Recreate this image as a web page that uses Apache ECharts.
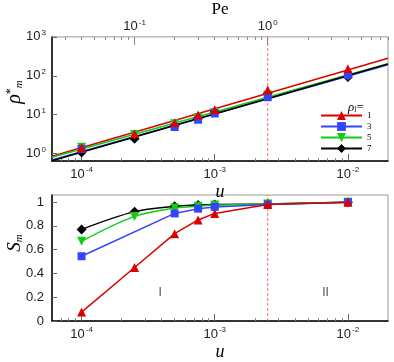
<!DOCTYPE html>
<html><head><meta charset="utf-8">
<script src="https://cdn.jsdelivr.net/npm/echarts@6/dist/echarts.min.js"></script>
<style>html,body{margin:0;padding:0;background:#fff}#c{width:394px;height:362px}</style>
</head><body><div id="c"></div>
<script>
// ---- data ----
const uVals = [1e-4, 2.5e-4, 5e-4, 7.5e-4, 1e-3, 2.5e-3, 1e-2];
const names = ['1', '3', '5', '7'];
// top panel: rho*_m
const rho1 = [1.4, 3.2, 6.2, 9.8, 13.4, 43, 152];
const rho3 = [1.3, null, 4.8, 7.4, 10.7, 28, 105];
const rho5 = [1.45, 3.1, 5.8, 8.3, 11.3, 32, 97];
const rho7 = [1.06, 2.4, 5.2, 8.1, 11.8, 35.5, 93];
// fitted power-law lines (endpoints)
const fitU = [6e-5, 0.02];
const fit1 = [0.85, 283];
const fit3 = [0.68, 192];
const fit5 = [0.8, 204];
const fit7 = [0.65, 200];
// bottom panel: S_m
const s1 = [0.075, 0.45, 0.735, 0.85, 0.905, 0.98, 1.0];
const s3 = [0.545, null, 0.905, 0.945, 0.96, 0.98, 1.0];
const s5 = [0.67, 0.88, 0.95, 0.965, 0.975, 0.985, 1.0];
const s7 = [0.77, 0.92, 0.965, 0.975, 0.98, 0.985, 1.0];
// ticks
const uTicks = [1e-4, 1e-3, 1e-2];
const uMinor = [7e-5, 8e-5, 9e-5, 2e-4, 3e-4, 4e-4, 5e-4, 6e-4, 7e-4, 8e-4, 9e-4, 2e-3, 3e-3, 4e-3, 5e-3, 6e-3, 7e-3, 8e-3, 9e-3];
const peTicks = [0.1, 1];
const peMinor = [0.03, 0.04, 0.05, 0.06, 0.07, 0.08, 0.09, 0.2, 0.3, 0.4, 0.5, 0.6, 0.7, 0.8, 0.9, 2, 3, 4, 5, 6, 7, 8];
const rhoTicks = [1, 10, 100, 1000];
const sTicks = [0, 0.2, 0.4, 0.6, 0.8, 1];
const transitionU = 2.5e-3;
const regionLabels = [['I', 3.9e-4, 0.235], ['II', 6.8e-3, 0.235]];
const uRange = [6e-5, 0.02];
const peRange = [0.024, 8];
const rhoRange = [0.64, 1000];
const sRange = [0, 1.06];

const colors = ['#dd0000', '#3344ff', '#11cc11', '#000000'];
const symbols = ['triangle', 'rect', 'path://M0,0 L10,0 L5,9 Z', 'diamond'];
const symSizes = [9, 8, 9, 10];

const pow = v => { const e = Math.round(Math.log10(v)); return '{b|10}{s|' + e + '}'; };
const richPow = {
  b: { fontSize: 13, fontFamily: 'Liberation Sans', color: '#222', lineHeight: 16 },
  s: { fontSize: 8, fontFamily: 'Liberation Sans', color: '#222', verticalAlign: 'top', lineHeight: 16, padding: [0, 0, 0, 1] }
};

function uAxis(grid) {
  return {
    type: 'log', logBase: 10, gridIndex: grid, min: uRange[0], max: uRange[1], position: 'bottom',
    axisLine: { show: true, onZero: false, lineStyle: { color: '#000', width: 1.5 } },
    axisTick: { show: true, inside: true, length: 7, customValues: uTicks, lineStyle: { color: '#666' } },
    axisLabel: { customValues: uTicks, formatter: pow, rich: richPow, margin: 5 },
    splitLine: { show: false },
    name: 'u', nameLocation: 'middle', nameGap: 22,
    nameTextStyle: { fontFamily: 'Liberation Serif', fontStyle: 'italic', fontSize: 18, color: '#000' }
  };
}
function minorAxis(grid, range, vals, pos) {
  return {
    type: 'log', logBase: 10, gridIndex: grid, min: range[0], max: range[1], position: pos,
    axisLine: { show: false },
    axisTick: { show: true, inside: true, length: 3, customValues: vals, lineStyle: { color: '#888' } },
    axisLabel: { show: false }, splitLine: { show: false }
  };
}

const series = [];
// bottom panel series first (legend takes their style)
const sData = [s1, s3, s5, s7];
names.forEach((n, i) => {
  series.push({
    name: n, type: 'line', xAxisIndex: 4, yAxisIndex: 1,
    data: uVals.map((u, k) => [u, sData[i][k]]).filter(d => d[1] !== null),
    smooth: i >= 2 ? 0.35 : false,
    symbol: symbols[i], symbolSize: symSizes[i], showAllSymbol: true,
    lineStyle: { color: colors[i], width: 1.5 }, itemStyle: { color: colors[i] },
    z: 10 - i
  });
});
// dashed transition lines
series.push({
  type: 'line', xAxisIndex: 0, yAxisIndex: 0, symbol: 'none', silent: true, z: 2,
  data: [[transitionU, rhoRange[0]], [transitionU, rhoRange[1]]],
  lineStyle: { color: '#ff4444', type: [3, 2], width: 0.8 }
});
series.push({
  type: 'line', xAxisIndex: 4, yAxisIndex: 1, symbol: 'none', silent: true, z: 2,
  data: [[transitionU, sRange[0]], [transitionU, sRange[1]]],
  lineStyle: { color: '#ff4444', type: [3, 2], width: 0.8 }
});
const fData = [fit1, fit3, fit5, fit7];
names.forEach((n, i) => {
  series.push({
    name: 'fit' + n, type: 'line', xAxisIndex: 0, yAxisIndex: 0,
    data: fitU.map((u, k) => [u, fData[i][k]]), symbol: 'none',
    lineStyle: { color: colors[i], width: 1.5 }, z: 3 + (i === 3 ? 1 : 0)
  });
});
const rData = [rho1, rho3, rho5, rho7];
names.forEach((n, i) => {
  series.push({
    name: n, type: 'line', xAxisIndex: 0, yAxisIndex: 0,
    data: uVals.map((u, k) => [u, rData[i][k]]).filter(d => d[1] !== null),
    symbol: symbols[i], symbolSize: symSizes[i], showAllSymbol: true,
    lineStyle: { width: 0, opacity: 0 }, itemStyle: { color: colors[i] }, z: 10 - i
  });
});
series.push({
  type: 'scatter', xAxisIndex: 4, yAxisIndex: 1, symbolSize: 0,
  data: regionLabels.map(r => ({ value: [r[1], r[2]], name: r[0] })),
  label: { show: true, position: 'inside', formatter: p => p.name, fontSize: 12, fontFamily: 'Liberation Sans', color: '#222' },
  silent: true
});

const option = {
  animation: false,
  backgroundColor: '#fff',
  grid: [
    { left: 52, top: 27, width: 336, height: 134, show: true, borderColor: '#999', borderWidth: 1 },
    { left: 52, top: 195, width: 336, height: 135, show: true, borderColor: '#999', borderWidth: 1 }
  ],
  xAxis: [
    uAxis(0),
    minorAxis(0, uRange, uMinor, 'bottom'),
    {
      type: 'log', logBase: 10, gridIndex: 0, min: peRange[0], max: peRange[1], position: 'top',
      axisLine: { show: false },
      axisTick: { show: true, inside: true, length: 8, customValues: peTicks, lineStyle: { color: '#888' } },
      axisLabel: { customValues: peTicks, formatter: pow, rich: richPow, margin: 2 },
      splitLine: { show: false },
      name: 'Pe', nameLocation: 'middle', nameGap: 10,
      nameTextStyle: { fontFamily: 'Liberation Serif', fontSize: 17, color: '#000' }
    },
    minorAxis(0, peRange, peMinor, 'top'),
    uAxis(1),
    minorAxis(1, uRange, uMinor, 'bottom')
  ],
  yAxis: [
    {
      type: 'log', logBase: 10, gridIndex: 0, min: rhoRange[0], max: rhoRange[1],
      axisLine: { show: true, onZero: false, lineStyle: { color: '#000', width: 1.5 } },
      axisTick: { show: true, inside: true, length: 5, customValues: rhoTicks, lineStyle: { color: '#666' } },
      axisLabel: { customValues: rhoTicks, formatter: pow, rich: richPow, margin: 6 },
      splitLine: { show: false }
    },
    {
      type: 'value', gridIndex: 1, min: sRange[0], max: sRange[1],
      axisLine: { show: true, onZero: false, lineStyle: { color: '#000', width: 1.5 } },
      axisTick: { show: true, inside: true, length: 5, customValues: sTicks, lineStyle: { color: '#666' } },
      axisLabel: { customValues: sTicks, fontSize: 13, fontFamily: 'Liberation Sans', color: '#222', margin: 8 },
      splitLine: { show: false }
    }
  ],
  legend: {
    data: names, orient: 'vertical', left: 320, top: 110, itemWidth: 41, itemHeight: 11, itemGap: 0,
    padding: 0, textStyle: { fontSize: 9, fontFamily: 'Liberation Serif', color: '#000', lineHeight: 11 },
    selectedMode: false
  },
  graphic: [
    { type: 'text', x: 15, y: 92, rotation: Math.PI / 2,
      style: { text: '{r|ρ}{s|*}{m|m}', align: 'center', verticalAlign: 'middle',
        rich: { r: { fontFamily: 'Liberation Serif', fontStyle: 'italic', fontSize: 20, lineHeight: 20 },
                s: { fontFamily: 'Liberation Serif', fontSize: 12, verticalAlign: 'top', lineHeight: 20 },
                m: { fontFamily: 'Liberation Serif', fontStyle: 'italic', fontSize: 11, verticalAlign: 'bottom', lineHeight: 20 } } } },
    { type: 'text', x: 15, y: 243, rotation: Math.PI / 2,
      style: { text: '{r|S}{m|m}', align: 'center', verticalAlign: 'middle',
        rich: { r: { fontFamily: 'Liberation Serif', fontStyle: 'italic', fontSize: 19, lineHeight: 20 },
                m: { fontFamily: 'Liberation Serif', fontStyle: 'italic', fontSize: 11, verticalAlign: 'bottom', lineHeight: 20 } } } },
    { type: 'text', x: 348, y: 101,
      style: { text: '{r|ρ}{m|l}{e|=}', rich: {
        r: { fontFamily: 'Liberation Serif', fontStyle: 'italic', fontSize: 13, lineHeight: 13 },
        m: { fontFamily: 'Liberation Serif', fontStyle: 'italic', fontSize: 8, verticalAlign: 'bottom', lineHeight: 13 },
        e: { fontFamily: 'Liberation Serif', fontSize: 13, lineHeight: 13 } } } }
  ],
  series: series
};
const chart = echarts.init(document.getElementById('c'), null, { renderer: 'canvas' });
chart.setOption(option);
</script></body></html>
